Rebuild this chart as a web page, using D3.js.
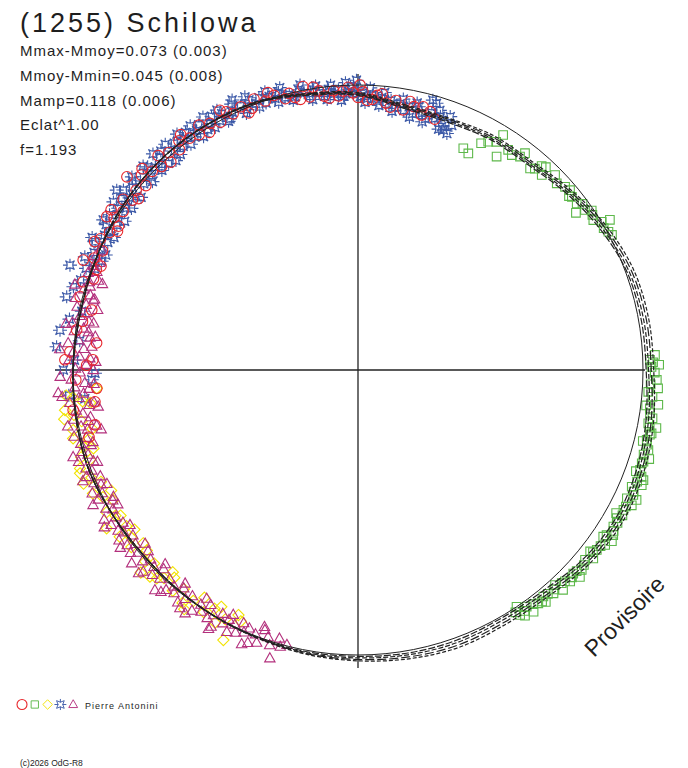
<!DOCTYPE html>
<html>
<head>
<meta charset="utf-8">
<script src="https://cdn.jsdelivr.net/npm/d3@7"></script>
<style>
body{margin:0;background:#fff}
text{font-family:"Liberation Sans",Arial,sans-serif;fill:#1e1e1e}
</style>
</head>
<body>
<svg id="svg" width="688" height="768"></svg>
<script>
// rotational phase in degrees, magnitude relative to the mean (mag)
var redPts = [
[256,0.030],[258.2,0.064],[262,-0.010],[263.1,0.079],[266,0.092],[268,0.010],[271,0.053],[272,-0.031],[272.2,0.078],[273.6,-0.014],[275.9,0.088],[278.1,0.003],[280,0.020],[282.7,0.047],[284.8,-0.009],[287.8,-0.014],[289,0.020],
[291,0.018],[291.8,-0.041],[292,0.030],[293,-0.006],[295,0.012],[296,-0.030],[297,-0.015],[299,0.004],[300,0.028],[301,0.022],[301.4,-0.035],[302,-0.010],[303,-0.035],[304,0.006],[306,-0.020],[307,0.010],[308,0.025],[309,-0.002],[309.9,-0.060],[311,0.015],[312,-0.024],[313,-0.038],[314,-0.004],[316,0.008],[317,-0.030],[318,0.020],[319,-0.012],[321,0.006],[322,-0.022],[323,-0.036],[324,-0.006],[326,0.004],[327,-0.026],[328,0.018],[329,-0.010],[331,0.006],[332,-0.034],[333,-0.018],[334,0.000],[336,-0.012],[337,0.022],[338,0.010],[339,-0.020],[341,0.002],[342,-0.025],[343,-0.008],[345,0.016],
[346,0.000],[347,0.020],[348,0.032],[349,-0.014],[350,0.030],[351,-0.005],[352,0.012],[353,0.035],[354,0.045],[355,0.018],[356,0.040],[357,0.022],[358,0.008],[359,0.030],[0,0.048],[0.4,0.000],[1,0.025],[2,0.060],[3,0.055],[4,0.038],[5,0.030],[6,0.065],[7,0.080],[8,0.050],[9.8,0.083],[11,0.045],[12,0.062],[13.9,0.054],[14,0.088],[15.6,0.066],[17,0.090]
];

var greenPts = [
[25.4,0.162],[27,0.173],[28.5,0.108],[29.7,0.088],[31.2,0.072],[31.7,0.034],[33,0.123],[34.3,0.073],[35.6,0.082],[37.2,0.067],[37.6,0.044],[40.5,0.079],[41.3,0.067],[42,0.041],[42.8,0.033],[43.3,0.067],[45.3,0.030],[46.8,0.048],[48.5,0.033],[49.7,0.027],[50.5,0.045],[51,0.038],[52.7,0.039],[53.5,0.022],[54.2,0.064],[54.8,0.028],[55.7,0.008],[56.5,0.015],[57.5,0.023],[58.7,-0.001],[59.2,-0.031],[60,0.005],[61.1,-0.004],[62,-0.010],
[87.1,-0.046],[88,-0.027],[88.5,-0.038],[89,-0.060],[89.4,-0.032],[90.5,-0.044],[91.9,-0.052],[92.8,-0.030],[93.5,-0.058],[94.3,-0.023],[95.2,-0.040],[96.6,-0.064],[97,-0.020],[97.5,-0.035],[98.4,-0.038],[99.3,-0.050],[100.4,-0.038],[101,-0.070],[101.2,-0.046],[102.2,-0.057],[102.5,-0.052],[103.6,-0.045],[104,-0.032],[104.5,-0.050],[105.4,-0.060],[106.5,-0.048],[107,-0.072],[107.8,-0.055],[108.2,-0.051],[109.5,-0.053],[110,-0.040],[110.6,-0.066],[111.1,-0.077],[111.8,-0.058],[112.1,-0.078],[113.1,-0.047],[113.8,-0.060],[114.4,-0.064],[115,-0.082],[115.5,-0.048],[116.3,-0.075],[117,-0.058],[117.8,-0.056],[118.8,-0.062],[119,-0.038],[119.8,-0.049],[120.5,-0.060],[121.5,-0.054],[122.2,-0.063],[122.9,-0.070],[123.6,-0.050],[124,-0.078],[124.2,-0.043],[125.3,-0.066],[126,-0.055],[127,-0.052],[127.8,-0.046],[128,-0.036],[128.7,-0.061],[129.9,-0.041],[130.8,-0.050],[131.8,-0.056],[132.6,-0.045],[133,-0.068],[133.4,-0.042],[134.1,-0.048],[134.9,-0.054],[135.6,-0.040],[136.3,-0.037],[137,-0.058],[137.5,-0.025],[138.2,-0.035],[138.8,-0.044],[139.7,-0.032],[140.7,-0.029],[141,-0.050],[141.5,-0.040],[142.3,-0.037],[143.2,-0.028],[144,-0.051],[144.5,-0.021],[145.3,-0.030],[145.8,-0.045],[146.2,0.000],[146.5,-0.033],[147,-0.015]
];

var yellowPts = [
[205,0.030],[206,0.048],[206.5,-0.062],[208,0.010],[209.5,-0.020],[210,0.045],[211,0.025],[212.5,-0.008],[214,0.040],[215.5,0.005],[216,-0.040],[217,-0.025],[218.5,0.020],[220,-0.012],[221.5,0.030],[222.5,0.042],[223,0.002],[224,-0.018],[225.2,-0.031],[226.5,0.015],[227,-0.045],[228,-0.005],[229.5,0.028],[231.1,0.035],[232,-0.010],[233.5,0.012],[234.5,0.040],[235,-0.022],[236,0.022],[237.8,-0.045],[238.5,0.025],[239,0.008],[240.5,-0.015],[242,0.030],[243.5,0.000],[244,0.040],[245,-0.028],[246.5,0.018],[247.5,-0.045],[248,-0.010],[249.6,-0.043],[250.5,-0.037],[251.5,0.010],[252.5,-0.020],[253.5,0.035],[254.4,0.000],[255.5,0.025],[256.5,-0.030],[257.5,0.050],[258.1,-0.023],[259.5,0.015],[260.5,-0.048],[261,-0.010],[262.2,-0.040],[263,0.060],[263.5,0.030],[264.5,-0.005],[265,-0.030],[266,0.092]
];

var bluePts = [
[264,0.040],[265,-0.020],[267.9,0.073],[269.3,0.087],[270,-0.036],[272,0.005],[274.4,-0.064],[276,0.020],[277.6,-0.058],[280,-0.030],[282,0.010],[284.1,-0.057],[286.3,-0.043],[288,-0.025],[290,-0.079],
[290.5,-0.020],[291,0.012],[292,-0.004],[292.5,-0.040],[293,0.025],[294,-0.015],[294.5,0.030],[295,0.006],[296,-0.028],[296.5,-0.045],[297,0.016],[298,-0.008],[298.5,0.028],[299,0.002],[300,-0.022],[300.5,-0.040],[301,0.014],[302,-0.030],[302.5,0.032],[303,0.000],[304,-0.016],[304.5,-0.044],[305,0.010],[305.5,0.026],[306,-0.026],[306.7,-0.059],[307,-0.004],[307.5,-0.040],[308,0.012],[308.5,0.030],[309,-0.020],[310,-0.034],[310.5,-0.046],[311,0.004],[312,-0.014],[312.5,0.024],[313,0.008],[313.5,-0.042],[314,-0.028],[315,-0.006],[315.5,0.020],[316,0.010],[316.5,-0.048],[317,-0.022],[317.5,0.018],[318,-0.036],[319,0.029],[319.5,-0.044],[320,-0.002],[320.5,0.022],[321,-0.026],[322,0.004],[322.5,-0.046],[323,-0.018],[323.5,0.016],[324,-0.032],[325,0.002],[325.5,-0.042],[326,-0.014],[326.5,0.020],[327,-0.028],[328,0.006],[328.5,-0.044],[329,-0.010],[329.5,0.014],[330,-0.030],[331,0.000],[331.5,-0.040],[332,-0.020],[332.5,0.018],[333,0.012],[334,-0.006],[334.5,-0.036],[335,-0.048],[336,-0.016],[336.5,0.020],[337,0.008],[337.5,-0.040],[338,-0.024],[339,0.000],[339.5,0.016],[340,-0.018],[341,0.010],[341.5,-0.032],[342,-0.010],[343,0.004],[343.5,0.022],[344,-0.014],[344.5,-0.030],[345,0.012],
[346,0.004],[346.5,0.030],[347,0.018],[348,-0.006],[348.5,-0.022],[349,0.010],[350,0.028],[350.5,0.042],[351,0.006],[351.5,-0.008],[352,0.020],[353,0.036],[353.5,0.050],[354,0.012],[354.5,-0.004],[355,0.030],[356,0.016],[356.5,0.058],[357,0.042],[357.5,-0.010],[358,0.024],[358.5,0.004],[359,0.034],[359.7,-0.018],[0,0.020],[0.5,0.045],[1,0.030],[1.5,0.068],[2,0.052],[2.5,0.010],[3,0.038],[4,0.060],[4.5,0.078],[5,0.044],[5.5,0.024],[6,0.070],[7,0.052],[7.5,0.096],[8,0.078],[9,0.060],[9.5,0.040],[10,0.085],[11,0.066],[11.5,0.108],[12,0.092],[12.5,0.045],[13,0.058],[14,0.080],[14.5,0.115],[15,0.100],[15.5,0.019],[16,0.068],[16.4,0.027],[17,0.088],[17.5,0.050],[18,0.072],[18.5,0.125],[19,0.110],[19.6,0.122],[20,0.060],[20.6,0.131],[21,0.092]
];

var purplePts = [
[194.5,0.004],[195.7,-0.009],[196.3,0.020],[197,-0.061],[197.8,-0.015],[198.6,0.012],[199.7,0.034],[200,0.045],[200.4,-0.022],[201.2,0.006],[202,-0.035],[202.8,0.018],[203,-0.048],[203.5,-0.004],[204.3,0.028],[205,-0.018],[205.8,0.008],[206.6,-0.030],[207,0.040],[207.3,0.015],[208.1,-0.008],[209,0.024],[209.8,-0.040],[210,-0.052],[210.5,0.002],[211.3,-0.020],[212.1,0.030],[213,-0.012],[213.5,0.042],[213.8,0.010],[214.6,-0.028],[215.4,-0.050],[216.2,0.018],[216.8,-0.046],[217,-0.006],[217.8,-0.034],[218.6,0.022],[219,0.040],[219.5,-0.016],[220.3,0.004],[221.1,-0.026],[221.6,-0.044],[222,0.014],[222.7,-0.054],[223.5,-0.010],[224.3,0.026],[224.8,0.044],[225.1,-0.020],[226,0.006],[226.8,-0.036],[227.2,-0.052],[227.6,0.016],[228.4,-0.012],[229.2,0.030],[229.5,-0.047],[230.3,-0.004],[230.8,0.040],[231.2,-0.026],[232,0.010],[232.8,-0.018],[233.2,-0.044],[233.7,0.022],[234.5,-0.032],[235.3,0.000],[235.8,0.036],[236.2,-0.014],[237,0.018],[237.9,-0.024],[238.2,-0.050],[238.7,0.006],[239.5,-0.036],[240.4,0.012],[240.8,0.038],[241.2,-0.010],[242,0.028],[242.6,0.037],[243,-0.046],[243.5,-0.020],[244.3,0.004],[245.1,-0.030],[245.6,0.036],[246,0.014],[246.8,-0.008],[247.6,0.024],[248,-0.044],[248.5,-0.026],[249.3,0.002],[250.1,-0.016],[250.6,0.034],[251,0.020],[251.8,-0.034],[252.6,0.008],[253,-0.048],[253.5,-0.012],[254.3,0.030],[254.8,0.040],
[255.1,-0.007],[256,0.019],[256.8,-0.025],[257,0.085],[257.6,0.031],[258,0.070],[258.5,0.009],[259,-0.040],[259.3,0.041],[260,0.052],[260.1,-0.013],[261,0.025],[261.8,0.001],[262,0.090],[262.6,0.055],[263,0.075],[263.5,-0.019],[264.3,0.017],[264.8,-0.045],[265.1,0.037],[265.6,-0.058],[266,0.060],[266.5,0.005],[267,0.082],[267.3,0.045],[268.1,-0.007],[268.7,-0.048],[269.5,0.027],[270,0.080],[270.3,0.009],[271.1,0.051],[271.8,0.090],[272,-0.015],[272.5,0.065],[272.8,0.023],[273.6,-0.001],[274,-0.052],[274.4,0.039],[275,0.070],[275.3,-0.023],[276.1,0.015],[276.9,0.059],[277.2,0.080],[277.8,-0.005],[278,0.050],[278.6,0.029],[279,-0.040],[279.4,-0.017],[280,0.065],[280.2,0.045],[281,0.007],[281.9,0.033],[282.7,-0.011],[283,0.070],[283.5,0.021],[284.3,-0.025],[284.8,0.044],[285,0.048],[285.6,0.027],[286.4,-0.003],[286.8,-0.040],[287.3,0.017],[288.1,0.009],[288.6,0.060],[289,0.041],[289.8,-0.007],[290.6,0.023],[291.5,0.003],[292.5,0.020],[293.5,-0.004],[295,0.010]
];

// fitted light curves (one per session), sampled every 10 degrees
var fitPhase = [0,10,20,30,40,50,60,70,80,90,100,110,120,130,140,150,160,170,180,190,200,210,220,230,240,250,260,270,280,290,300,310,320,330,340,350];
var fitA = [0.040,0.076,0.085,0.076,0.072,0.045,0.018,-0.005,-0.010,-0.012,-0.028,-0.041,-0.046,-0.034,-0.012,-0.006,-0.010,-0.009,-0.005,-0.005,-0.002,0.001,0.004,0.006,0.000,-0.008,-0.004,0.000,0.006,0.004,-0.004,-0.010,-0.013,-0.010,-0.002,0.023];
var fitB = [0.037,0.071,0.079,0.070,0.066,0.038,0.010,-0.013,-0.019,-0.021,-0.037,-0.050,-0.055,-0.043,-0.021,-0.015,-0.019,-0.016,-0.011,-0.009,-0.003,0.000,0.004,0.006,0.000,-0.008,-0.004,0.000,0.006,0.004,-0.004,-0.010,-0.013,-0.011,-0.003,0.020];
var fitC = [0.033,0.066,0.073,0.063,0.059,0.030,0.001,-0.022,-0.029,-0.031,-0.047,-0.060,-0.065,-0.053,-0.031,-0.025,-0.029,-0.024,-0.017,-0.012,-0.005,0.000,0.004,0.006,0.000,-0.008,-0.004,0.000,0.006,0.004,-0.004,-0.010,-0.013,-0.011,-0.005,0.017];
var fitD = [0.029,0.061,0.068,0.056,0.052,0.023,-0.008,-0.031,-0.038,-0.040,-0.056,-0.069,-0.074,-0.062,-0.040,-0.034,-0.038,-0.031,-0.022,-0.015,-0.006,-0.001,0.004,0.006,0.000,-0.008,-0.004,0.000,0.006,0.004,-0.004,-0.010,-0.013,-0.012,-0.006,0.015];

var statLines = ["Mmax-Mmoy=0.073 (0.003)","Mmoy-Mmin=0.045 (0.008)","Mamp=0.118 (0.006)","Eclat^1.00","f=1.193"];

var width = 688, height = 768;
var cx = 358, cy = 370, R0 = 285;
var svg = d3.select("svg");

var ang = d3.scaleLinear().domain([0, 360]).range([0, 2 * Math.PI]);
var rad = d3.scaleLinear().domain([0, 1]).range([0, R0]);
function flux(dm) { return Math.pow(10, -0.4 * dm); } // Eclat^1.00

function pos(d) {
  var a = ang(d[0]), r = rad(flux(d[1]));
  return [r * Math.sin(a), -r * Math.cos(a)];
}

var g = svg.append("g").attr("transform", "translate(" + cx + "," + cy + ")");

// axes
g.append("line").attr("x1", -303).attr("x2", 287).attr("y1", 0).attr("y2", 0)
  .attr("stroke", "#222").attr("stroke-width", 1.3);
g.append("line").attr("x1", 0).attr("x2", 0).attr("y1", -296).attr("y2", 298)
  .attr("stroke", "#222").attr("stroke-width", 1.3);

// symbols
var star = "M-4.5,-4.5Q0,-1 4.5,-4.5Q1,0 4.5,4.5Q0,1 -4.5,4.5Q-1,0 -4.5,-4.5Z" +
           "M-7,0H-2.5M2.5,0H7M0,-6.5V-2.5M0,2.5V6.5";
var series = [
  { pts: redPts, color: "#e8262b", shape: "circle" },
  { pts: greenPts, color: "#5db84a", shape: "M-4.3,-4.3h8.6v8.6h-8.6Z" },
  { pts: yellowPts, color: "#f2e300", shape: "M0,-5.6L5.6,0L0,5.6L-5.6,0Z" },
  { pts: bluePts, color: "#3d5aa8", shape: star },
  { pts: purplePts, color: "#b3307d", shape: "M0,-5.6L5.2,3.6L-5.2,3.6Z" }
];
var drawOrder = [3, 2, 4, 0, 1];

drawOrder.forEach(function(k) {
  var s = series[k];
  var sel = g.append("g").selectAll(".m").data(s.pts).enter();
  if (s.shape === "circle") {
    sel.append("circle")
      .attr("cx", function(d) { return pos(d)[0]; })
      .attr("cy", function(d) { return pos(d)[1]; })
      .attr("r", 5.3)
      .attr("fill", "none").attr("stroke", s.color).attr("stroke-width", 1.1);
  } else {
    sel.append("path")
      .attr("d", s.shape)
      .attr("transform", function(d) { var p = pos(d); return "translate(" + p[0] + "," + p[1] + ")"; })
      .attr("fill", "none").attr("stroke", s.color).attr("stroke-width", 1.1);
  }
});

// mean circle
g.append("circle").attr("r", rad(1)).attr("fill", "none").attr("stroke", "#222").attr("stroke-width", 1);

// fits
var line = d3.lineRadial()
  .angle(function(d) { return ang(d[0]); })
  .radius(function(d) { return rad(flux(d[1])); })
  .curve(d3.curveCatmullRomClosed);

var fits = [fitA, fitB, fitC, fitD];
var dashes = ["7,2", "5,2", "9,3", "4,2"];
fits.forEach(function(f, i) {
  g.append("path")
    .datum(fitPhase.map(function(p, j) { return [p, f[j]]; }))
    .attr("d", line)
    .attr("fill", "none")
    .attr("stroke", "#222")
    .attr("stroke-width", 1.2)
    .attr("stroke-dasharray", dashes[i]);
});

// texts
svg.append("text").attr("x", 20).attr("y", 32).attr("font-size", 27).attr("letter-spacing", 3)
  .text("(1255) Schilowa");

svg.selectAll(".stat").data(statLines).enter().append("text")
  .attr("x", 20).attr("y", function(d, i) { return 56 + i * 24.8; })
  .attr("font-size", 15).attr("letter-spacing", 1)
  .text(function(d) { return d; });

svg.append("text").attr("transform", "translate(594,658) rotate(-45)")
  .attr("font-size", 23).text("Provisoire");

// legend
var leg = svg.append("g").attr("transform", "translate(0,704.5)");
series.forEach(function(s, i) {
  var x = 22 + i * 12.8;
  if (s.shape === "circle") {
    leg.append("circle").attr("cx", x).attr("cy", 0).attr("r", 5)
      .attr("fill", "none").attr("stroke", s.color).attr("stroke-width", 1.1);
  } else {
    leg.append("path").attr("d", s.shape).attr("transform", "translate(" + x + ",0) scale(0.85)")
      .attr("fill", "none").attr("stroke", s.color).attr("stroke-width", 1.1);
  }
});
svg.append("text").attr("x", 85).attr("y", 708.5).attr("font-size", 9).attr("letter-spacing", 1)
  .text("Pierre Antonini");

svg.append("text").attr("x", 20).attr("y", 766).attr("font-size", 8.5)
  .text("(c)2026 OdG-R8");
</script>
</body>
</html>
